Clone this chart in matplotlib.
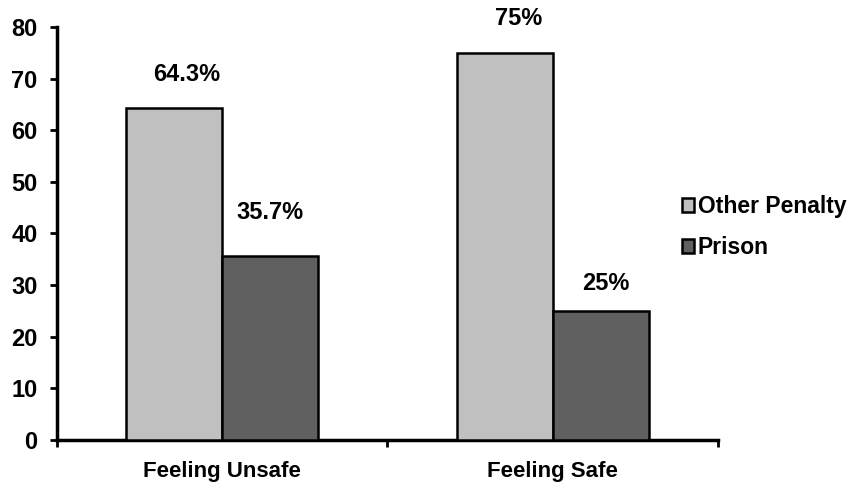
import matplotlib
matplotlib.use("Agg")
import matplotlib.pyplot as plt
import numpy as np

categories = ["Feeling Unsafe", "Feeling Safe"]
series_names = ["Other Penalty", "Prison"]
other_penalty = [64.3, 75.0]
prison = [35.7, 25.0]
value_labels = [["64.3%", "75%"], ["35.7%", "25%"]]
yticks = [0, 10, 20, 30, 40, 50, 60, 70, 80]

colors = ["#C0C0C0", "#606060"]

plt.rcParams['font.family'] = ['Liberation Sans', 'DejaVu Sans']
plt.rcParams['font.weight'] = 'bold'

fig = plt.figure(figsize=(8.61, 4.91), dpi=100)
ax = fig.add_axes([0.066, 0.104, 0.768, 0.841])

x = np.arange(len(categories))
w = 0.29
series = [other_penalty, prison]
offsets = [-w / 2, w / 2]
label_off = [[(9, 24), (10, 25)], [(0, 31), (4, 20)]]
for i, (vals, col) in enumerate(zip(series, colors)):
    bars = ax.bar(x + offsets[i], vals, width=w, color=col, edgecolor='black',
                  linewidth=1.8, label=series_names[i], zorder=3)
    for j, b in enumerate(bars):
        ax.annotate(value_labels[i][j], (b.get_x() + b.get_width() / 2, b.get_height()),
                    xytext=label_off[i][j], textcoords='offset points',
                    ha='center', va='center', fontsize=17, fontweight='bold')

ax.set_xlim(-0.5, 1.5)
ax.set_ylim(0, 80)
ax.set_yticks(yticks)
ax.set_yticklabels([str(t) for t in yticks], fontsize=17, fontweight='bold')
ax.set_xticks([-0.5, 0.5, 1.5])
ax.set_xticklabels([])
ax.set_xticks(x, minor=True)
ax.set_xticklabels(categories, minor=True, fontsize=16, fontweight='bold')
ax.tick_params(axis='x', which='minor', length=0, pad=15)
ax.tick_params(axis='x', which='major', direction='out', length=5, width=2)
ax.tick_params(axis='y', direction='out', length=5, width=2, pad=9)

for s in ['top', 'right']:
    ax.spines[s].set_visible(False)
for s in ['left', 'bottom']:
    ax.spines[s].set_linewidth(2.5)

leg = ax.legend(loc='center left', bbox_to_anchor=(0.945, 0.515), frameon=False,
                prop={'size': 16.5, 'weight': 'bold'}, handlelength=0.55,
                handleheight=0.55, handletextpad=0.15, labelspacing=0.8,
                borderpad=0, borderaxespad=0)

fig.savefig("out.png", dpi=100)
